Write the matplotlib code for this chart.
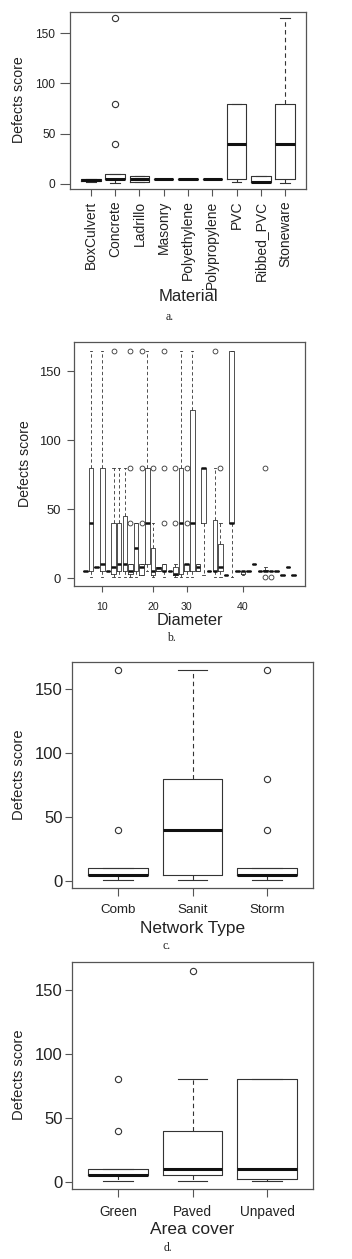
import matplotlib.pyplot as plt

plt.rcParams['font.family'] = ['Liberation Sans', 'DejaVu Sans']

# a. Material
material = ['BoxCulvert', 'Concrete', 'Ladrillo', 'Masonry', 'Polyethylene',
            'Polypropylene', 'PVC', 'Ribbed_PVC', 'Stoneware']
mat_q1 = [3, 5, 2, 5, 5, 5, 5, 2, 5]
mat_med = [4, 5, 5, 5, 5, 5, 40, 2, 40]
mat_q3 = [5, 10, 8, 5, 5, 5, 80, 8, 80]
mat_lo = [2, 1, 2, 5, 5, 5, 2, 2, 1]
mat_hi = [5, 10, 8, 5, 5, 5, 80, 8, 165]
mat_out = [[], [40, 80, 165], [], [], [], [], [], [], []]

# b. Diameter (38 levels, only some labelled)
dia_q1 = [5, 5, 8, 5, 5, 3, 5, 5, 3, 5, 2, 10, 2, 5, 5, 5, 2, 3, 5,
          5, 5, 40, 5, 5, 5, 2, 40, 5, 3, 5, 10, 5, 5, 5, 5, 2, 8, 2]
dia_med = [5, 40, 8, 10, 5, 8, 10, 10, 5, 22, 8, 40, 5, 7, 5, 5, 3, 40, 10,
           40, 8, 80, 5, 5, 8, 2, 40, 5, 5, 5, 10, 5, 5, 5, 5, 2, 8, 2]
dia_q3 = [5, 80, 8, 80, 5, 40, 40, 45, 10, 40, 10, 80, 22, 8, 10, 5, 8, 80, 10,
          122, 10, 80, 5, 42, 25, 2, 165, 5, 5, 5, 10, 5, 6, 5, 5, 2, 8, 2]
dia_lo = [5, 1, 8, 1, 5, 1, 1, 1, 1, 1, 2, 5, 1, 5, 1, 5, 1, 1, 1,
          1, 5, 2, 5, 1, 1, 2, 1, 5, 2, 5, 10, 5, 5, 5, 5, 2, 8, 2]
dia_hi = [5, 165, 8, 165, 5, 80, 80, 80, 10, 40, 10, 165, 40, 8, 10, 5, 10, 165, 10,
          165, 10, 80, 5, 80, 40, 2, 165, 5, 5, 5, 10, 5, 8, 5, 5, 2, 8, 2]
dia_out = [[], [], [], [], [], [165], [], [], [40, 80, 165], [], [40, 80, 165], [],
           [80], [], [40, 80, 165], [], [40, 80], [], [40, 80], [], [], [], [],
           [165], [80], [], [], [], [], [], [], [], [80, 1], [1], [], [], [], []]
dia_tick_pos = [4, 13, 19, 29]
dia_tick_lab = ['10', '20', '30', '40']

# c. Network type
network = ['Comb', 'Sanit', 'Storm']
net_q1 = [5, 5, 5]
net_med = [5, 40, 5]
net_q3 = [10, 80, 10]
net_lo = [1, 1, 1]
net_hi = [10, 165, 10]
net_out = [[40, 165], [], [40, 80, 165]]

# d. Area cover
area = ['Green', 'Paved', 'Unpaved']
area_q1 = [5, 5, 2]
area_med = [5, 10, 10]
area_q3 = [10, 40, 80]
area_lo = [1, 1, 1]
area_hi = [10, 80, 80]
area_out = [[40, 80], [165], []]

W, H = 352, 1259
fig = plt.figure(figsize=(W / 100, H / 100), dpi=100)
ink = '#333333'
frame = '#555555'


def stats(q1, med, q3, lo, hi, out):
    return [dict(q1=a, med=b, q3=c, whislo=d, whishi=e, fliers=f)
            for a, b, c, d, e, f in zip(q1, med, q3, lo, hi, out)]


def panel(l, r, t, b, st, lw=0.8, mlw=2.2, ms=4.5):
    ax = fig.add_axes([l / W, 1 - b / H, (r - l) / W, (b - t) / H])
    n = len(st)
    ax.bxp(st, positions=range(1, n + 1), widths=0.8,
           boxprops=dict(color=ink, lw=lw),
           whiskerprops=dict(color=ink, lw=lw, linestyle=(0, (4, 3))),
           capprops=dict(color=ink, lw=lw),
           medianprops=dict(color='#111111', lw=mlw, solid_capstyle='butt'),
           flierprops=dict(marker='o', markerfacecolor='none',
                           markeredgecolor=ink, markersize=ms, markeredgewidth=lw))
    ax.set_xlim(0.5 - 0.04 * n, n + 0.5 + 0.04 * n)
    ax.set_ylim(-5.56, 171.56)
    ax.set_yticks([0, 50, 100, 150])
    for s in ax.spines.values():
        s.set_color(frame)
        s.set_linewidth(0.9)
    ax.tick_params(colors=frame, labelcolor='#222222', width=0.8)
    return ax


def labels(ax, l, r, t, b, xlab, xy, xs, ylab, yx, yy, ys, cap, cx, cy):
    ax.set_xlabel(xlab, fontsize=xs, color='#222222')
    ax.xaxis.set_label_coords(((l + r) / 2 - l) / (r - l), (b - xy) / (b - t))
    ax.xaxis.label.set_va('center')
    ax.set_ylabel(ylab, fontsize=ys, color='#222222')
    ax.yaxis.set_label_coords((yx - l) / (r - l), (b - yy) / (b - t))
    ax.yaxis.label.set_va('center')
    fig.text(cx / W, 1 - cy / H, cap, family='Liberation Serif', fontsize=8.5,
             ha='center', va='center', color='#222222')


# a
la, ra, ta, ba = 70, 306, 11.7, 189.3
ax = panel(la, ra, ta, ba, stats(mat_q1, mat_med, mat_q3, mat_lo, mat_hi, mat_out))
ax.set_xticks(range(1, len(material) + 1))
ax.set_xticklabels(material, rotation=90, fontsize=10)
ax.tick_params(axis='x', length=5, pad=3)
ax.tick_params(axis='y', length=7, pad=3.5, labelsize=8.6)
labels(ax, la, ra, ta, ba, 'Material', 296.7, 12, 'Defects score', 19, 100, 10.2,
       'a.', 170, 316.7)

# b
lb, rb, tb, bb = 74, 305, 341.7, 585.7
ax = panel(lb, rb, tb, bb, stats(dia_q1, dia_med, dia_q3, dia_lo, dia_hi, dia_out),
           lw=0.6, mlw=1.8, ms=3.5)
ax.set_xticks(dia_tick_pos)
ax.set_xticklabels(dia_tick_lab, fontsize=7.6)
ax.tick_params(axis='x', length=4.5, pad=7)
ax.tick_params(axis='y', length=5, pad=4.5, labelsize=9.4)
labels(ax, lb, rb, tb, bb, 'Diameter', 621, 11.8, 'Defects score', 25, 463.3, 10.2,
       'b.', 171, 638.3)

# c
lc, rc, tc, bc = 71.7, 313.3, 661.7, 888.3
ax = panel(lc, rc, tc, bc, stats(net_q1, net_med, net_q3, net_lo, net_hi, net_out))
ax.set_xticks(range(1, len(network) + 1))
ax.set_xticklabels(network, fontsize=9.6)
ax.tick_params(axis='x', length=6, pad=5.5)
ax.tick_params(axis='y', length=5, pad=1.5, labelsize=12)
labels(ax, lc, rc, tc, bc, 'Network Type', 929, 12.4, 'Defects score', 19, 775, 10.6,
       'c.', 166.7, 946)

# d
ld, rd, td, bd = 71.7, 313.3, 962.3, 1189
ax = panel(ld, rd, td, bd, stats(area_q1, area_med, area_q3, area_lo, area_hi, area_out))
ax.set_xticks(range(1, len(area) + 1))
ax.set_xticklabels(area, fontsize=9.8)
ax.tick_params(axis='x', length=6, pad=5.5)
ax.tick_params(axis='y', length=5, pad=1.5, labelsize=12)
labels(ax, ld, rd, td, bd, 'Area cover', 1229, 12.5, 'Defects score', 19, 1075, 10.6,
       'd.', 168, 1248)

fig.savefig('out.png', dpi=100)
